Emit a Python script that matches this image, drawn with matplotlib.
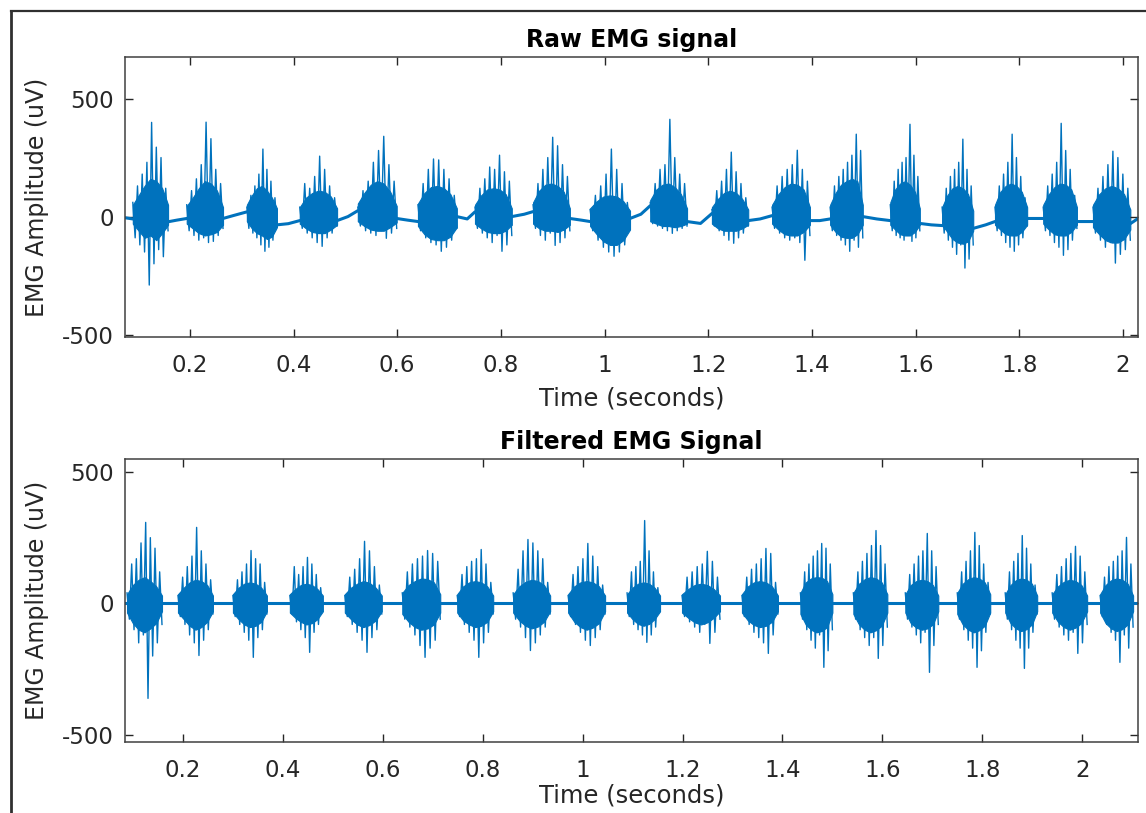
import numpy as np
import matplotlib.pyplot as plt
from matplotlib.lines import Line2D

plt.rcParams['font.family'] = ['DejaVu Sans']
plt.rcParams['axes.unicode_minus'] = False

BLUE = '#0072BD'
GREY = '#262626'

# ---------------- raw EMG ----------------
# burst start / end times (s)
raw_start = [0.090, 0.194, 0.310, 0.412, 0.524, 0.640, 0.750, 0.862, 0.972,
             1.088, 1.207, 1.323, 1.435, 1.551, 1.651, 1.753, 1.846, 1.942]
raw_end = [0.158, 0.264, 0.368, 0.484, 0.599, 0.715, 0.821, 0.933, 1.049,
           1.159, 1.277, 1.396, 1.498, 1.608, 1.711, 1.815, 1.911, 2.014]
# dense core of each burst, 7 samples across the burst (uV)
raw_core_top = [[50, 90, 130, 160, 150, 120, 50], [45, 80, 120, 150, 140, 110, 40],
                [50, 90, 120, 130, 110, 80, 35], [40, 80, 100, 110, 105, 85, 35],
                [55, 100, 135, 150, 140, 105, 45], [55, 100, 125, 130, 120, 95, 35],
                [50, 90, 115, 120, 115, 95, 35], [60, 110, 135, 140, 130, 105, 35],
                [35, 65, 85, 90, 85, 65, 25], [70, 115, 135, 140, 125, 95, 35],
                [40, 75, 100, 110, 100, 75, 30], [50, 95, 125, 140, 135, 115, 40],
                [50, 100, 135, 150, 160, 150, 50], [60, 115, 140, 150, 135, 105, 35],
                [40, 90, 120, 130, 120, 95, 25], [50, 105, 130, 140, 130, 105, 40],
                [50, 95, 125, 140, 135, 115, 40], [50, 95, 120, 130, 120, 95, 30]]
raw_core_bot = [[-30, -60, -90, -80, -100, -70, -35], [-30, -50, -70, -80, -75, -65, -35],
                [-20, -50, -70, -80, -95, -85, -45], [-30, -50, -65, -70, -70, -55, -35],
                [-20, -40, -55, -60, -60, -45, -25], [-40, -75, -95, -100, -100, -85, -45],
                [-30, -50, -65, -70, -70, -60, -35], [-30, -50, -60, -60, -65, -55, -35],
                [-40, -75, -105, -120, -120, -100, -55], [-20, -30, -40, -40, -45, -40, -30],
                [-30, -50, -60, -60, -60, -50, -35], [-30, -55, -75, -80, -80, -65, -35],
                [-35, -65, -85, -90, -90, -75, -35], [-35, -55, -75, -80, -80, -65, -35],
                [-35, -65, -95, -110, -115, -105, -60], [-35, -55, -75, -80, -80, -65, -35],
                [-30, -55, -75, -80, -80, -65, -35], [-45, -75, -100, -110, -110, -95, -55]]
# spike extremes within each burst, in time order (uV)
raw_spikes = [
    [60, -90, 130, -120, 180, -150, 230, -290, 399, -200, 294, -140, 250, -170, 120, -60],
    [50, -60, 110, -80, 160, -100, 220, -90, 400, -110, 330, -105, 200, -80, 140, -50],
    [40, -50, 90, -70, 130, -90, 180, -120, 286, -147, 200, -130, 150, -100, 80, -40],
    [40, -50, 140, -70, 120, -90, 170, -110, 256, -126, 200, -90, 130, -70, 80, -40],
    [40, -40, 110, -60, 150, -70, 230, -80, 280, -60, 340, -92, 220, -70, 150, -50],
    [50, -60, 140, -90, 200, -110, 244, -120, 240, -147, 200, -130, 160, -100, 90, -50],
    [40, -50, 120, -70, 160, -90, 210, -110, 200, -80, 260, -147, 190, -120, 150, -80],
    [50, -50, 140, -80, 200, -100, 250, -70, 336, -122, 300, -110, 220, -90, 170, -60],
    [30, -60, 90, -100, 130, -130, 180, -150, 286, -168, 200, -150, 140, -120, 60, -50],
    [60, -30, 140, -40, 200, -50, 220, -60, 412, -71, 250, -60, 180, -50, 140, -40],
    [30, -40, 110, -60, 150, -80, 200, -100, 273, -113, 190, -90, 140, -70, 80, -40],
    [40, -50, 130, -70, 170, -90, 200, -100, 220, -90, 281, -110, 200, -185, 150, -80],
    [40, -60, 130, -80, 170, -100, 200, -120, 230, -147, 260, -100, 349, -130, 280, -90],
    [50, -60, 150, -80, 200, -90, 230, -100, 250, -80, 391, -105, 260, -90, 170, -60],
    [40, -70, 120, -100, 170, -130, 200, -160, 230, -120, 328, -218, 200, -180, 130, -120],
    [40, -60, 130, -80, 180, -110, 230, -130, 349, -147, 250, -120, 170, -90, 80, -40],
    [40, -60, 130, -80, 180, -110, 230, -130, 395, -164, 280, -140, 200, -100, 90, -50],
    [40, -70, 120, -100, 170, -130, 220, -110, 277, -197, 250, -160, 180, -140, 120, -100],
]
# slow baseline drift of the raw recording
raw_base_t = [0.075, 0.090, 0.158, 0.175, 0.194, 0.264, 0.285, 0.310, 0.368, 0.390,
              0.412, 0.484, 0.505, 0.524, 0.599, 0.620, 0.640, 0.715, 0.735, 0.750,
              0.821, 0.845, 0.862, 0.933, 0.955, 0.972, 1.049, 1.070, 1.088, 1.159,
              1.185, 1.207, 1.277, 1.300, 1.323, 1.396, 1.415, 1.435, 1.498, 1.525,
              1.551, 1.608, 1.630, 1.651, 1.711, 1.735, 1.753, 1.815, 1.830, 1.846,
              1.911, 1.925, 1.942, 2.014, 2.029]
raw_base_v = [-5, -10, -22, -15, -8, -8, 5, 20, -35, -30,
              -17, -17, 0, 25, -8, -15, -21, 0, -10, 20,
              0, 10, 21, -8, -15, -21, -8, 10, 46, -21,
              -29, 13, -17, -10, 4, -17, -17, -10, 0, -10,
              -17, -29, -35, -38, -50, -35, -21, -8, -8, -8,
              -21, -21, -21, -30, -8]

# ---------------- filtered EMG ----------------
filt_start = [0.088, 0.190, 0.300, 0.414, 0.524, 0.639, 0.749, 0.861, 0.971, 1.089,
              1.199, 1.319, 1.436, 1.542, 1.646, 1.750, 1.846, 1.940, 2.036]
filt_end = [0.158, 0.260, 0.368, 0.480, 0.598, 0.715, 0.821, 0.935, 1.045, 1.155,
            1.275, 1.391, 1.500, 1.610, 1.712, 1.816, 1.910, 2.010, 2.102]
filt_core_top = [[35, 70, 90, 100, 85, 65, 30], [35, 60, 80, 90, 85, 70, 30],
                 [35, 60, 75, 80, 75, 60, 30], [35, 55, 70, 75, 70, 55, 30],
                 [35, 60, 75, 85, 78, 60, 30], [40, 70, 85, 95, 92, 80, 35],
                 [35, 65, 80, 85, 80, 65, 30], [35, 65, 82, 90, 85, 70, 30],
                 [35, 65, 80, 85, 80, 65, 30], [35, 60, 75, 80, 75, 60, 30],
                 [35, 55, 70, 75, 70, 55, 30], [35, 65, 80, 85, 80, 65, 30],
                 [40, 80, 95, 100, 98, 85, 35], [40, 75, 92, 100, 95, 80, 35],
                 [35, 70, 85, 90, 85, 70, 30], [40, 75, 92, 100, 95, 80, 35],
                 [35, 70, 88, 95, 90, 75, 30], [35, 65, 82, 90, 85, 70, 30],
                 [35, 70, 88, 95, 90, 75, 30]]
filt_core_bot = [[-35, -75, -100, -110, -95, -75, -30], [-35, -60, -85, -100, -90, -70, -30],
                 [-35, -60, -80, -90, -85, -70, -30], [-35, -55, -70, -80, -75, -60, -30],
                 [-35, -60, -80, -90, -82, -65, -30], [-40, -70, -90, -100, -95, -80, -35],
                 [-35, -65, -80, -90, -85, -70, -30], [-35, -65, -85, -95, -88, -70, -30],
                 [-35, -70, -90, -100, -92, -75, -30], [-35, -60, -78, -85, -78, -60, -30],
                 [-35, -55, -72, -80, -72, -55, -30], [-35, -65, -82, -90, -85, -70, -30],
                 [-40, -80, -100, -110, -105, -90, -35], [-40, -80, -100, -110, -102, -85, -35],
                 [-35, -75, -92, -100, -95, -80, -30], [-40, -80, -100, -110, -102, -85, -35],
                 [-35, -75, -95, -105, -98, -80, -30], [-35, -70, -90, -100, -92, -75, -30],
                 [-35, -75, -95, -105, -98, -80, -30]]
filt_spikes = [
    [40, -60, 150, -100, 170, -150, 230, -120, 308, -361, 250, -200, 210, -150, 120, -80],
    [30, -50, 100, -80, 140, -120, 180, -150, 289, -198, 200, -140, 150, -100, 90, -40],
    [30, -50, 90, -80, 120, -110, 150, -140, 201, -205, 170, -130, 150, -100, 80, -40],
    [30, -40, 140, -70, 110, -100, 140, -130, 175, -186, 150, -110, 110, -80, 60, -30],
    [30, -50, 100, -80, 130, -110, 170, -140, 236, -186, 200, -130, 140, -100, 70, -40],
    [40, -60, 120, -90, 150, -120, 170, -160, 180, -205, 201, -170, 190, -140, 160, -60],
    [30, -50, 110, -80, 140, -110, 160, -140, 170, -205, 205, -150, 150, -110, 80, -40],
    [40, -60, 130, -90, 200, -130, 243, -179, 230, -150, 200, -120, 170, -90, 80, -40],
    [30, -50, 110, -80, 140, -110, 170, -140, 228, -160, 180, -130, 140, -100, 70, -40],
    [40, -50, 120, -80, 140, -100, 160, -120, 315, -148, 200, -120, 120, -90, 60, -30],
    [30, -50, 100, -70, 120, -90, 140, -110, 150, -80, 198, -152, 160, -110, 100, -60],
    [30, -50, 100, -80, 130, -110, 150, -130, 170, -150, 209, -190, 190, -120, 80, -40],
    [40, -60, 120, -100, 150, -140, 180, -170, 200, -120, 228, -243, 210, -180, 150, -100],
    [40, -60, 120, -100, 160, -130, 190, -160, 220, -130, 277, -209, 220, -160, 150, -90],
    [40, -60, 110, -90, 150, -120, 180, -150, 200, -110, 266, -262, 200, -160, 140, -80],
    [40, -60, 120, -100, 160, -140, 200, -170, 270, -243, 220, -180, 150, -110, 80, -40],
    [40, -60, 120, -100, 160, -140, 190, -170, 258, -247, 210, -170, 150, -110, 70, -40],
    [40, -60, 110, -90, 140, -120, 170, -140, 190, -110, 217, -190, 180, -150, 120, -80],
    [30, -50, 100, -80, 140, -110, 160, -140, 180, -224, 200, -120, 251, -170, 150, -90],
]
filt_base_t = [0.084, 2.112]
filt_base_v = [0, 0]

x_ticks = [0.2, 0.4, 0.6, 0.8, 1.0, 1.2, 1.4, 1.6, 1.8, 2.0]
x_tick_labels = ['0.2', '0.4', '0.6', '0.8', '1', '1.2', '1.4', '1.6', '1.8', '2']
y_ticks = [-500, 0, 500]


def draw_signal(ax, starts, ends, tops, bots, spikes, base_t, base_v):
    ax.plot(base_t, base_v, color=BLUE, lw=2.2)
    for t0, t1, top, bot, sp in zip(starts, ends, tops, bots, spikes):
        tc = np.linspace(t0, t1, len(top))
        ax.fill_between(tc, bot, top, color=BLUE, lw=0.8)
        ts = np.linspace(t0, t1, len(sp))
        ax.plot(ts, sp, color=BLUE, lw=1.0)


def style_axes(ax, title, xlim, ylim, xpad):
    ax.set_xlim(xlim)
    ax.set_ylim(ylim)
    ax.set_xticks(x_ticks)
    ax.set_xticklabels(x_tick_labels)
    ax.set_yticks(y_ticks)
    ax.tick_params(direction='in', top=True, right=True, length=6, width=1,
                   color=GREY, labelcolor=GREY, labelsize=16.5)
    ax.tick_params(axis='x', pad=12)
    ax.tick_params(axis='y', pad=8)
    for s in ax.spines.values():
        s.set_color('#404040')
        s.set_linewidth(1.1)
    ax.set_title(title, fontsize=17, fontweight='bold', pad=7)
    ax.set_xlabel('Time (seconds)', fontsize=17.5, color=GREY, labelpad=xpad)
    ax.set_ylabel('EMG Amplitude (uV)', fontsize=17, color=GREY)
    ax.yaxis.set_label_coords(-0.075, 0.5)


fig = plt.figure(figsize=(11.46, 8.13), dpi=100)
ax1 = fig.add_axes([0.1091, 0.5855, 0.884, 0.3444])
ax2 = fig.add_axes([0.1091, 0.0873, 0.884, 0.3481])

draw_signal(ax1, raw_start, raw_end, raw_core_top, raw_core_bot, raw_spikes,
            raw_base_t, raw_base_v)
style_axes(ax1, 'Raw EMG signal', (0.075, 2.029), (-510, 676), 7)

draw_signal(ax2, filt_start, filt_end, filt_core_top, filt_core_bot, filt_spikes,
            filt_base_t, filt_base_v)
style_axes(ax2, 'Filtered EMG Signal', (0.084, 2.112), (-527, 549), 1)

# outer frame of the screenshot (left and top edges)
fig.add_artist(Line2D([0.0092, 0.0092], [0, 0.9865], color='#303030', lw=2))
fig.add_artist(Line2D([0.0092, 1], [0.9865, 0.9865], color='#303030', lw=1.6))

fig.savefig('out.png', dpi=100)
